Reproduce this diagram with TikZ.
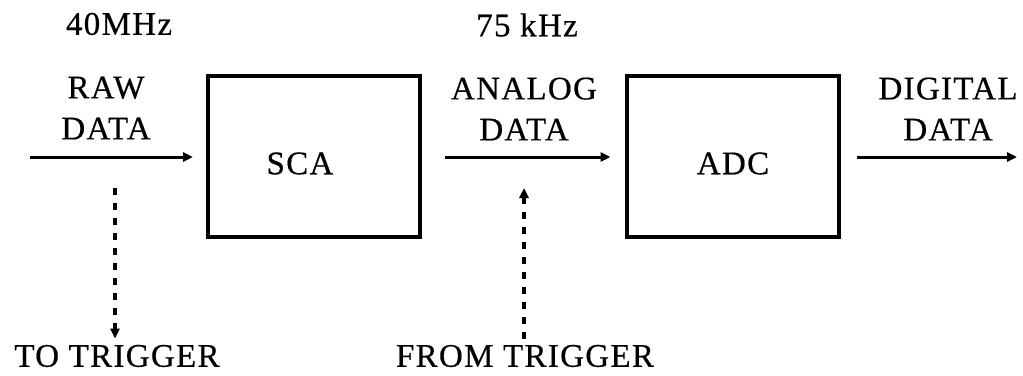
\documentclass[tikz,border=0pt]{standalone}
\usepackage{fontspec}
\setmainfont{Liberation Serif}[LetterSpace=4,FakeBold=0.5]
\usetikzlibrary{arrows.meta}
\begin{document}
\begin{tikzpicture}[x=0.5pt,y=-0.5pt,
  lbl/.style={font=\fontsize{16.5}{20.5}\selectfont, align=center, inner sep=0pt},
  blk/.style={draw, line width=2pt, minimum width=106pt, minimum height=80.5pt, inner sep=0pt},
  arr/.style={line width=1.5pt, -{Triangle[length=5pt,width=4.5pt]}},
  darr/.style={line width=1.6pt, dash pattern=on 3.5pt off 4pt, -{Triangle[length=5pt,width=4.5pt]}}]
\useasboundingbox (0,0) rectangle (1023,375);
% blocks
\node[blk] (sca) at (314,156.5) {};
\node[blk] (adc) at (732.5,156.5) {};
\node[lbl] (scatext) at (300,163.5) {SCA};
\node[lbl] (adctext) at (733,163.5) {ADC};
% labels
\node[lbl] (f40) at (119,24) {40MHz};
\node[lbl] (f75) at (527,25) {75 kHz};
\node[lbl] (raw) at (106,108) {RAW\\DATA};
\node[lbl] (ana) at (524,109) {ANALOG\\DATA};
\node[lbl] (dig) at (948,109) {DIGITAL\\DATA};
\node[lbl] (totrig) at (117,356) {TO TRIGGER};
\node[lbl] (fromtrig) at (525,356) {FROM TRIGGER};
% coordinates
\coordinate (rawin) at (30,157);
\coordinate (digout) at (1017,157);
\coordinate (tap) at (115,188);
\coordinate (trigin) at (524,188);
% connectors
\draw[arr, shorten >=6.5pt] (rawin) -- (rawin -| sca.west);
\draw[arr, shorten <=11.5pt, shorten >=7pt] (sca.east |- rawin) -- (adc.west |- rawin);
\draw[arr, shorten <=8pt] (adc.east |- digout) -- (digout);
\draw[darr, shorten >=3pt] (tap) -- (tap |- totrig.north);
\draw[darr, shorten <=3pt] (trigin |- fromtrig.north) -- (trigin);
\end{tikzpicture}
\end{document}
